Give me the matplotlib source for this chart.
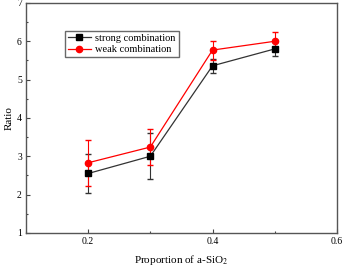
import matplotlib
matplotlib.use("Agg")
import matplotlib.pyplot as plt
from matplotlib.ticker import MultipleLocator

x = [0.2, 0.3, 0.4, 0.5]
strong = [2.55, 3.0, 5.36, 5.8]
strong_err = [0.5, 0.6, 0.18, 0.18]
weak = [2.83, 3.24, 5.77, 6.0]
weak_err = [0.6, 0.47, 0.25, 0.25]

plt.rcParams["font.family"] = ["Liberation Serif", "DejaVu Serif"]
plt.rcParams["mathtext.fontset"] = "stix"

fig = plt.figure(figsize=(3.42, 2.68), dpi=100)
ax = fig.add_axes([0.076, 0.131, 0.909, 0.858])

ax.errorbar(x, strong, yerr=strong_err, fmt="none", ecolor="#333333", capsize=2, elinewidth=0.8)
ax.errorbar(x, weak, yerr=weak_err, fmt="none", ecolor="red", capsize=2, elinewidth=0.8)
ax.plot(x, strong, color="#333333", lw=0.9, marker="s", ms=4, mfc="black", mec="black",
        label="strong combination")
ax.plot(x, weak, color="red", lw=0.9, marker="o", ms=4.5, mfc="red", mec="red",
        label="weak combination")

ax.set_xlim(0.1, 0.6)
ax.set_ylim(1, 7)
ax.set_xticks([0.2, 0.4, 0.6])
ax.set_xticklabels(["0.2", "0.4", "0.6"])
ax.xaxis.set_minor_locator(MultipleLocator(0.1))
ax.yaxis.set_major_locator(MultipleLocator(1))
ax.yaxis.set_minor_locator(MultipleLocator(0.5))
ax.tick_params(direction="in", labelsize=7, length=3, width=0.8, color="#444444", pad=3)
ax.tick_params(which="minor", direction="in", length=1.5, width=0.8, color="#444444")
for s in ax.spines.values():
    s.set_color("#555555")
    s.set_linewidth(1.0)

ax.set_xlabel("Proportion of a-SiO$_2$", fontsize=8, labelpad=5)
ax.set_ylabel("Ratio", fontsize=8)
ax.yaxis.set_label_coords(-0.04, 0.5)
ax.legend(loc="upper left", bbox_to_anchor=(0.125, 0.88), fontsize=7.5, frameon=True,
          fancybox=False, edgecolor="#444444", borderpad=0.3, labelspacing=0.2,
          handlelength=2.2, handletextpad=0.4, borderaxespad=0)

fig.savefig("out.png", dpi=100)
